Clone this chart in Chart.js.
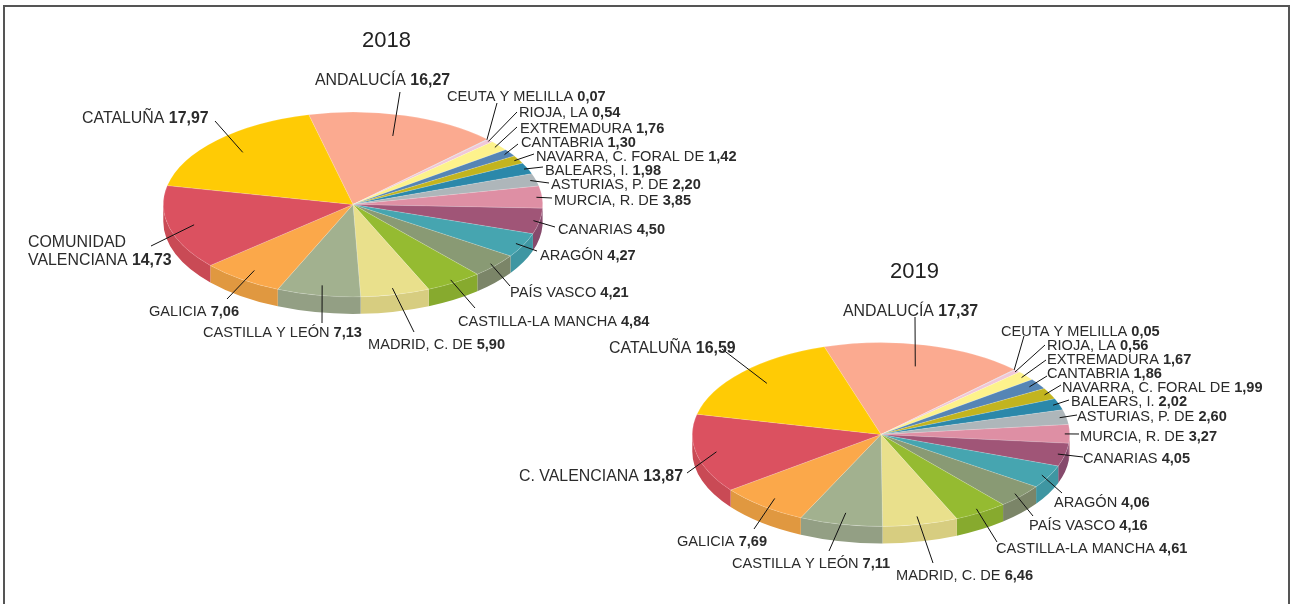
<!DOCTYPE html>
<html lang="es">
<head>
    <meta charset="UTF-8">
    <title>Distribución por comunidades 2018 y 2019</title>
    <script src="https://cdn.jsdelivr.net/npm/chart.js@4/dist/chart.umd.min.js"></script>
    <style>
        html, body { margin: 0; padding: 0; background: #fff; overflow: hidden; }
        #page { position: relative; width: 1290px; height: 604px; overflow: hidden; }
        #frame { position: absolute; left: 3px; top: 5px; width: 1283px; height: 620px; border: 2px solid #555; }
        .pie { position: absolute; left: 0; top: 0; width: 1290px; height: 900px; }
    </style>
</head>
<body>
    <div id="page">
        <div id="frame"></div>
        <div class="pie"><canvas id="pie2018"></canvas></div>
        <div class="pie"><canvas id="pie2019"></canvas></div>
    </div>

    <script>
        // datos
        const labels2018 = ['ANDALUCÍA', 'CEUTA Y MELILLA', 'RIOJA, LA', 'EXTREMADURA', 'CANTABRIA', 'NAVARRA, C. FORAL DE', 'BALEARS, I.', 'ASTURIAS, P. DE', 'MURCIA, R. DE', 'CANARIAS', 'ARAGÓN', 'PAÍS VASCO', 'CASTILLA-LA MANCHA', 'MADRID, C. DE', 'CASTILLA Y LEÓN', 'GALICIA', 'COMUNIDAD\nVALENCIANA', 'CATALUÑA'];
        const labels2019 = ['ANDALUCÍA', 'CEUTA Y MELILLA', 'RIOJA, LA', 'EXTREMADURA', 'CANTABRIA', 'NAVARRA, C. FORAL DE', 'BALEARS, I.', 'ASTURIAS, P. DE', 'MURCIA, R. DE', 'CANARIAS', 'ARAGÓN', 'PAÍS VASCO', 'CASTILLA-LA MANCHA', 'MADRID, C. DE', 'CASTILLA Y LEÓN', 'GALICIA', 'C. VALENCIANA', 'CATALUÑA'];
        const values2018 = [16.27, 0.07, 0.54, 1.76, 1.30, 1.42, 1.98, 2.20, 3.85, 4.50, 4.27, 4.21, 4.84, 5.90, 7.13, 7.06, 14.73, 17.97];
        const values2019 = [17.37, 0.05, 0.56, 1.67, 1.86, 1.99, 2.02, 2.60, 3.27, 4.05, 4.06, 4.16, 4.61, 6.46, 7.11, 7.69, 13.87, 16.59];

        // colores
        const topColors = ['#fbaa90', '#a8c8dc', '#f0c8d8', '#fdf28c', '#5585b5', '#c2b41f', '#2b88aa', '#aeb6ba', '#de8fa4', '#a05577', '#46a5b0', '#899a74', '#95bb31', '#e9e08c', '#a2b18f', '#fba84a', '#db5160', '#ffcb05'];
        const sideColors = ['#e09880', '#96b2c4', '#d6b2c0', '#e2d87c', '#4c76a1', '#ada01c', '#267998', '#9ba2a6', '#c67f92', '#864a6c', '#3f96a2', '#7b8568', '#87aa2e', '#d7cd80', '#939f84', '#e09840', '#c94a55', '#e3b505'];

        // posición de las etiquetas: x, y del texto, extremo exterior de la guía, fracción del radio
        const callouts2018 = [
            [315, 79, 400, 92, 0.771], [447, 95, 497, 103, 0.995], [519, 111, 517, 112, 0.987], [520, 127, 517, 127, 0.97],
            [521, 141, 518, 144, 0.964], [536, 155, 534, 154, 0.974], [545, 169, 543, 167, 0.98], [551, 183, 549, 183, 0.97],
            [554, 199, 552, 198, 0.97], [558, 228, 555, 227, 0.967], [540, 254, 537, 251, 0.957], [510, 291, 510, 286, 0.968],
            [458, 320, 475, 308, 0.965], [368, 343, 414, 332, 0.929], [203, 331, 322, 323, 0.89], [149, 310, 227, 299, 0.883],
            [28, 241, 151, 246, 0.866], [82, 117, 215, 121, 0.81]
        ];
        const callouts2019 = [
            [843, 310, 915, 317, 0.763], [1001, 330, 1024, 336, 0.996], [1047, 344, 1045, 345, 0.984], [1047, 358, 1046, 360, 0.969],
            [1047, 372, 1047, 376, 0.942], [1062, 386, 1061, 385, 0.968], [1071, 400, 1069, 400, 0.966], [1077, 415, 1077, 415, 0.964],
            [1080, 435, 1079, 434, 0.974], [1083, 457, 1083, 457, 0.961], [1054, 501, 1062, 493, 0.96], [1029, 524, 1033, 516, 0.958],
            [996, 547, 997, 542, 0.954], [896, 574, 933, 563, 0.912], [732, 562, 829, 551, 0.873], [677, 540, 754, 529, 0.895],
            [519, 475, 687, 473, 0.892], [609, 347, 722, 349, 0.822]
        ];

        const fontName = '"Liberation Sans", Arial, sans-serif';
        const bigFont = 15.9;
        const smallFont = 14.6;
        const bigLabels = ['ANDALUCÍA', 'CATALUÑA', 'COMUNIDAD\nVALENCIANA', 'C. VALENCIANA'];
        const squash = 0.487;
        const depth = 17;
        const textNudge = 1.5;

        function formatValue(v) {
            return v.toFixed(2).replace('.', ',');
        }

        // etiqueta con el valor en negrita en la última línea
        function drawLabel(ctx, text, value, x, y) {
            const size = bigLabels.includes(text) ? bigFont : smallFont;
            const lines = text.split('\n');
            ctx.fillStyle = '#2b2b2b';
            ctx.textBaseline = 'middle';
            ctx.textAlign = 'left';
            lines.forEach((line, i) => {
                const ly = y + textNudge + i * 18;
                ctx.font = size + 'px ' + fontName;
                ctx.fillText(line, x, ly);
                if (i === lines.length - 1) {
                    const w = ctx.measureText(line + ' ').width;
                    ctx.font = 'bold ' + size + 'px ' + fontName;
                    ctx.fillText(formatValue(value), x + w, ly);
                }
            });
        }

        // plugin: inclina la tarta, dibuja el canto y las etiquetas
        const tiltPlugin = {
            id: 'tilt',
            beforeDatasetsDraw(chart) {
                const ctx = chart.ctx;
                const arcs = chart.getDatasetMeta(0).data;
                const cx = arcs[0].x, cy = arcs[0].y, rx = arcs[0].outerRadius, ry = rx * squash;
                arcs.forEach((arc, i) => {
                    [-2 * Math.PI, 0, 2 * Math.PI].forEach(shift => {
                        const a = Math.max(arc.startAngle + shift, 0);
                        const b = Math.min(arc.endAngle + shift, Math.PI);
                        if (b <= a) return;
                        ctx.beginPath();
                        ctx.ellipse(cx, cy, rx, ry, 0, a, b);
                        ctx.ellipse(cx, cy + depth, rx, ry, 0, b, a, true);
                        ctx.closePath();
                        ctx.fillStyle = sideColors[i];
                        ctx.fill();
                    });
                });
                ctx.save();
                ctx.translate(cx, cy);
                ctx.scale(1, squash);
                ctx.translate(-cx, -cy);
            },
            afterDatasetsDraw(chart) {
                chart.ctx.restore();
            },
            afterDraw(chart, args, opts) {
                const ctx = chart.ctx;
                const arcs = chart.getDatasetMeta(0).data;
                const values = chart.data.datasets[0].data;
                arcs.forEach((arc, i) => {
                    const c = opts.callouts[i];
                    const mid = (arc.startAngle + arc.endAngle) / 2;
                    const ix = arc.x + c[4] * arc.outerRadius * Math.cos(mid);
                    const iy = arc.y + c[4] * arc.outerRadius * squash * Math.sin(mid);
                    ctx.beginPath();
                    ctx.moveTo(c[2], c[3]);
                    ctx.lineTo(ix, iy);
                    ctx.strokeStyle = '#111';
                    ctx.lineWidth = 1;
                    ctx.stroke();
                    drawLabel(ctx, chart.data.labels[i], values[i], c[0], c[1]);
                });
                ctx.fillStyle = '#222';
                ctx.font = '22px ' + fontName;
                ctx.textAlign = 'left';
                ctx.textBaseline = 'middle';
                ctx.fillText(opts.year, opts.yearX, opts.yearY + 1);
            }
        };

        function createPie(id, labels, values, rotation, cx, cy, r, callouts, year, yearX, yearY) {
            return new Chart(document.getElementById(id), {
                type: 'pie',
                data: {
                    labels: labels,
                    datasets: [{
                        data: values,
                        backgroundColor: topColors,
                        borderColor: 'rgba(255,255,255,0.35)',
                        borderWidth: 0.6,
                        clip: false
                    }]
                },
                options: {
                    responsive: true,
                    maintainAspectRatio: false,
                    animation: false,
                    rotation: rotation,
                    layout: { padding: { left: cx - r, right: 1290 - cx - r, top: cy - r, bottom: 900 - cy - r } },
                    plugins: {
                        legend: { display: false },
                        tooltip: { enabled: false },
                        tilt: { callouts: callouts, year: year, yearX: yearX, yearY: yearY }
                    }
                },
                plugins: [tiltPlugin]
            });
        }

        createPie('pie2018', labels2018, values2018, -13.5, 353, 204.5, 190, callouts2018, '2018', 362, 40);
        createPie('pie2019', labels2019, values2019, -17.5, 881, 434.5, 189, callouts2019, '2019', 890, 271);
    </script>
</body>
</html>
